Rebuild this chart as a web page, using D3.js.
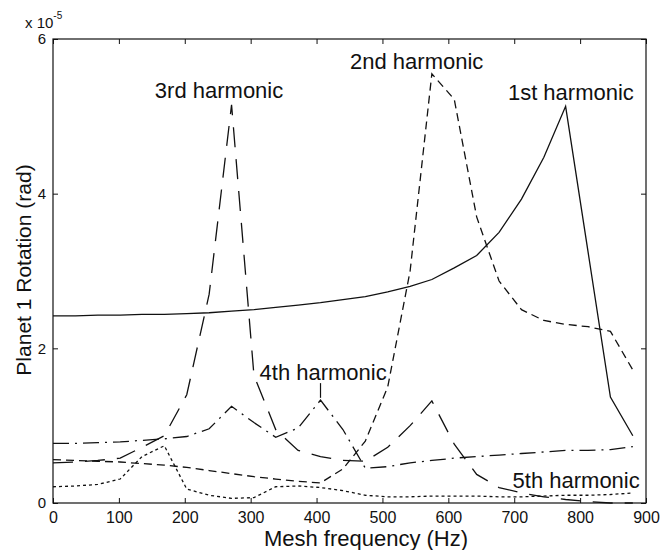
<!DOCTYPE html>
<html>
<head>
<meta charset="utf-8">
<script src="https://cdn.jsdelivr.net/npm/d3@7"></script>
<style>
  body { margin: 0; background: #fff; }
  svg text { font-family: "Liberation Sans", Arial, Helvetica, sans-serif; fill: #111; }
</style>
</head>
<body>
<div id="plot"></div>
<script>
//Data (rotation in units of 1e-5 rad);
const freqHz = [0, 34, 68, 102, 135, 169, 203, 237, 271, 305, 338, 372, 406, 440,
                474, 508, 542, 575, 609, 643, 677, 711, 745, 778, 812, 846, 880];
const harmonic1 = [2.42, 2.42, 2.43, 2.43, 2.44, 2.44, 2.45, 2.46, 2.48, 2.50, 2.53, 2.56, 2.59, 2.63,
                   2.67, 2.73, 2.80, 2.89, 3.04, 3.20, 3.50, 3.93, 4.47, 5.13, 3.25, 1.37, 0.87];
const harmonic2 = [0.56, 0.55, 0.54, 0.53, 0.51, 0.49, 0.46, 0.42, 0.38, 0.34, 0.31, 0.28, 0.26, 0.44,
                   0.80, 1.50, 3.00, 5.55, 5.22, 3.70, 2.87, 2.50, 2.36, 2.31, 2.28, 2.22, 1.72];
const harmonic3 = [0.52, 0.53, 0.55, 0.58, 0.72, 0.87, 1.40, 2.70, 5.15, 1.65, 0.95, 0.68, 0.60, 0.55,
                   0.54, 0.72, 1.00, 1.32, 0.76, 0.37, 0.20, 0.13, 0.08, 0.045, 0.02, 0.0, 0.0];
const harmonic4 = [0.77, 0.77, 0.78, 0.79, 0.81, 0.83, 0.86, 0.96, 1.25, 1.04, 0.85, 0.97, 1.33, 0.95,
                   0.45, 0.47, 0.52, 0.55, 0.58, 0.60, 0.62, 0.64, 0.66, 0.68, 0.68, 0.69, 0.73];
const harmonic5 = [0.21, 0.22, 0.24, 0.31, 0.60, 0.74, 0.18, 0.10, 0.06, 0.07, 0.21, 0.22, 0.20, 0.16,
                   0.10, 0.08, 0.08, 0.09, 0.09, 0.09, 0.08, 0.08, 0.09, 0.10, 0.10, 0.11, 0.13];

const seriesNames = ["1st harmonic", "2nd harmonic", "3rd harmonic", "4th harmonic", "5th harmonic"];
const seriesValues = [harmonic1, harmonic2, harmonic3, harmonic4, harmonic5];
const seriesDash = [null, "8,5", "20,12", "16,6,2,6", "3,3"];

const xTicks = [0, 100, 200, 300, 400, 500, 600, 700, 800, 900];
const yTicks = [0, 2, 4, 6];

//Label anchors in data units [freq, rotation];
const labelPos = [[786, 5.21], [552, 5.61], [252, 5.24], [410, 1.59], [794, 0.19]];
const leader4 = [406, 1.55, 1.36];

//Size;
const w = 665;
const h = 550;
const m = {left: 53, right: 646, top: 39, bottom: 503};

const svg = d3.select("#plot")
              .append("svg")
                .attr("width", w)
                .attr("height", h);

//Scales;
const x = d3.scaleLinear().domain([0, 900]).range([m.left, m.right]);
const y = d3.scaleLinear().domain([0, 6]).range([m.bottom, m.top]);

//Axes (ticks pointing inward);
svg.append("g")
   .attr("transform", "translate(0," + m.bottom + ")")
   .call(d3.axisBottom(x).tickValues(xTicks).tickSizeInner(-5).tickSizeOuter(0).tickPadding(9))
   .call(g => g.selectAll("text").attr("font-size", 16));

svg.append("g")
   .attr("transform", "translate(" + m.left + ",0)")
   .call(d3.axisLeft(y).tickValues(yTicks).tickFormat(d3.format("d"))
           .tickSizeInner(-5).tickSizeOuter(0).tickPadding(7))
   .call(g => g.selectAll("text").attr("font-size", 15));

svg.append("g")
   .attr("transform", "translate(0," + m.top + ")")
   .call(d3.axisTop(x).tickValues(xTicks).tickSizeInner(-5).tickSizeOuter(0).tickFormat(""));

svg.append("g")
   .attr("transform", "translate(" + m.right + ",0)")
   .call(d3.axisRight(y).tickValues(yTicks).tickSizeInner(-5).tickSizeOuter(0).tickFormat(""));

svg.selectAll(".domain").remove();
svg.selectAll(".tick line").attr("stroke", "#111");

//Box;
svg.append("rect")
   .attr("x", m.left)
   .attr("y", m.top)
   .attr("width", m.right - m.left)
   .attr("height", m.bottom - m.top)
   .attr("fill", "none")
   .attr("stroke", "#111")
   .attr("stroke-width", 1.2);

//Lines;
const line = d3.line()
               .x((d, i) => x(freqHz[i]))
               .y(d => y(d));

svg.selectAll(".harm")
   .data(seriesValues)
   .enter()
 .append("path")
   .attr("class", "harm")
   .attr("d", line)
   .attr("fill", "none")
   .attr("stroke", "#111")
   .attr("stroke-width", 1.3)
   .attr("stroke-dasharray", (d, i) => seriesDash[i]);

//Harmonic labels;
svg.selectAll(".lab")
   .data(seriesNames)
   .enter()
 .append("text")
   .attr("class", "lab")
   .attr("x", (d, i) => x(labelPos[i][0]))
   .attr("y", (d, i) => y(labelPos[i][1]))
   .attr("text-anchor", "middle")
   .attr("font-size", 22)
   .text(d => d);

//Leader for 4th harmonic;
svg.append("line")
   .attr("x1", x(leader4[0]))
   .attr("x2", x(leader4[0]))
   .attr("y1", y(leader4[1]))
   .attr("y2", y(leader4[2]))
   .attr("stroke", "#111")
   .attr("stroke-width", 1.2);

//Exponent;
const expo = svg.append("text")
   .attr("x", 25)
   .attr("y", 28)
   .attr("font-size", 15);
expo.append("tspan").text("x 10");
expo.append("tspan").attr("dy", -9).attr("font-size", 10).text("-5");

//Axis titles;
svg.append("text")
   .attr("x", 366)
   .attr("y", 546)
   .attr("text-anchor", "middle")
   .attr("font-size", 22)
   .text("Mesh frequency (Hz)");

svg.append("text")
   .attr("transform", "translate(31,270) rotate(-90)")
   .attr("text-anchor", "middle")
   .attr("font-size", 21)
   .text("Planet 1 Rotation (rad)");
</script>
</body>
</html>
